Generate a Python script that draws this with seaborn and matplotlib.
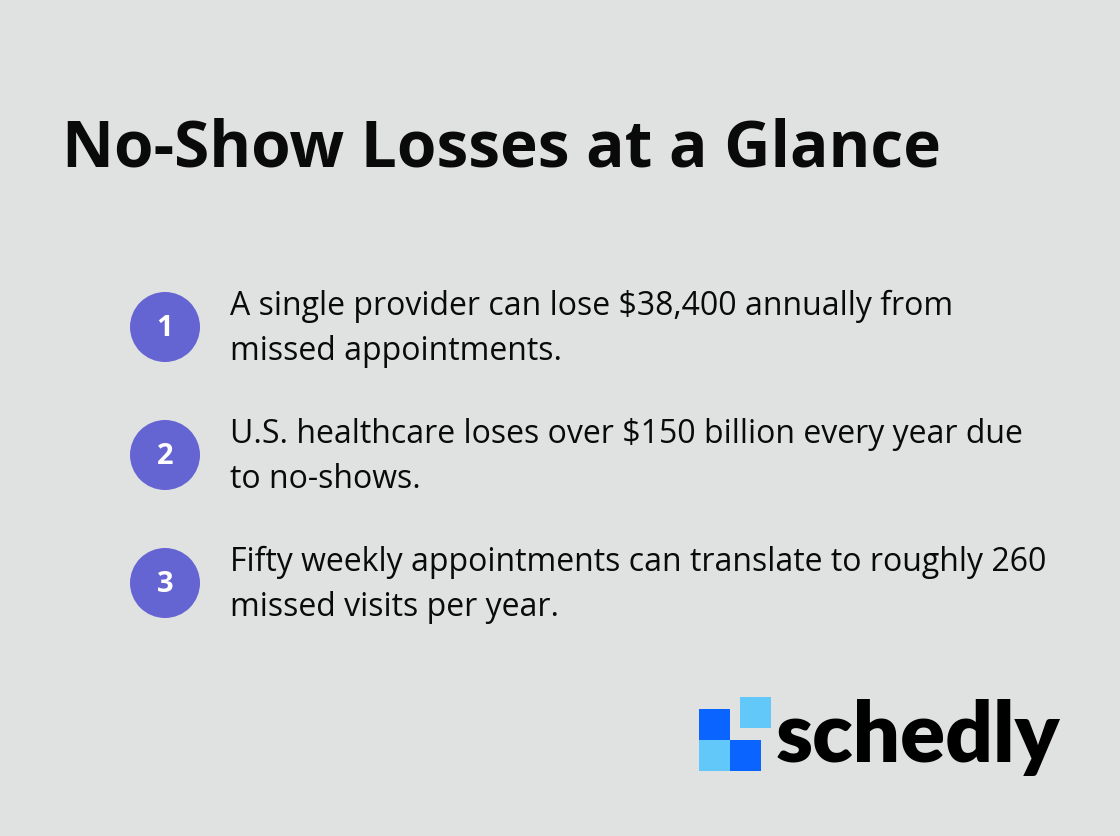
import matplotlib.pyplot as plt
import seaborn as sns
import pandas as pd
from matplotlib.patches import Rectangle

title = "No-Show Losses at a Glance"
numbers = ["1", "2", "3"]
statements = [
    "A single provider can lose $38,400 annually from\nmissed appointments.",
    "U.S. healthcare loses over $150 billion every year due\nto no-shows.",
    "Fifty weekly appointments can translate to roughly 260\nmissed visits per year.",
]
brand = "schedly"

bg = "#e0e2e1"
sns.set_theme(style="white")
plt.rcParams["font.family"] = ["Open Sans", "DejaVu Sans"]

fig = plt.figure(figsize=(11.2, 8.36), dpi=100, facecolor=bg)
ax = fig.add_axes([0, 0, 1, 1])
ax.set_facecolor(bg)
ax.set_xlim(0, 1120)
ax.set_ylim(836, 0)
ax.axis("off")

# item rows
df = pd.DataFrame({"num": numbers, "text": statements})
df["x"] = 165
df["y"] = [327 + 128 * i for i in range(len(df))]
sns.scatterplot(data=df, x="x", y="y", s=2540, color="#6464d2", edgecolor="none", ax=ax, legend=False)
for _, r in df.iterrows():
    ax.text(r.x, r.y + 1, r.num, color="white", fontsize=21, fontweight="bold", ha="center", va="center")
    ax.text(230, r.y + 2, r.text, color="#0a0a0a", fontsize=23, ha="left", va="center", linespacing=1.45)

ax.text(62, 150, title, fontsize=46, fontweight="bold", color="#0a0a0a", ha="left", va="center")

# logo
for (x0, y0, c) in [(699, 709, "#0a64ff"), (740, 697, "#62c8fa"), (699, 740, "#62c8fa"), (730, 740, "#0a64ff")]:
    ax.add_patch(Rectangle((x0, y0), 31, 31, color=c, lw=0))
ax.text(776, 737, brand, fontsize=60, fontweight="heavy", color="#000000", ha="left", va="center",
        family=["Lato", "DejaVu Sans"])

fig.savefig("out.png", dpi=100, facecolor=bg)
